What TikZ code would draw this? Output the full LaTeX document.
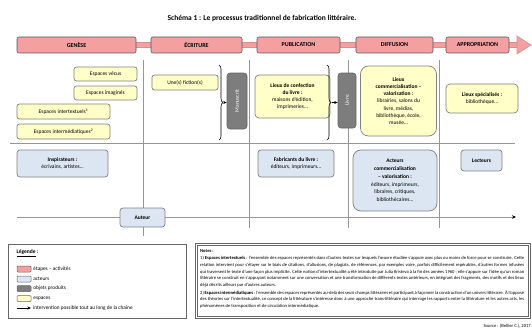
\documentclass[tikz,border=0pt]{standalone}
\usepackage{fontspec}
\setmainfont{Carlito}
\usetikzlibrary{arrows.meta,decorations.pathreplacing,positioning}

\definecolor{etape}{RGB}{244,160,160}
\definecolor{etapeline}{RGB}{200,95,95}
\definecolor{espace}{RGB}{255,255,200}
\definecolor{acteur}{RGB}{220,230,242}
\definecolor{objet}{RGB}{125,125,125}
\definecolor{trait}{RGB}{150,150,150}

\newcommand{\taille}[2]{\fontsize{#1}{#2}\selectfont}

\begin{document}
\begin{tikzpicture}[x=1pt, y=-1pt,
  etapebox/.style={draw=black!65, fill=etape, rounded corners=2pt, line width=0.6pt, inner sep=0pt, font=\taille{6}{7}\bfseries},
  espacebox/.style={draw=black!50, fill=espace, rounded corners=2.5pt, line width=0.7pt, inner sep=1pt, align=center, font=\taille{5.5}{7.3}},
  acteurbox/.style={draw=black!50, fill=acteur, rounded corners=3pt, line width=0.7pt, inner sep=1pt, align=center, font=\taille{5.5}{7.8}},
  objetbox/.style={draw=black!60, fill=objet, rounded corners=3pt, line width=0.6pt, inner sep=0pt, text=white, font=\taille{5.5}{7}},
  ligne/.style={draw=trait, line width=1pt},
  fleche/.style={-{Stealth[length=3.5pt,width=3pt]}, line width=0.6pt},
  cadre/.style={draw=black!60, line width=0.7pt}]

\path[use as bounding box, fill=white] (0,0) rectangle (532,329);

\node[font=\taille{7.5}{9}\bfseries] (titre) at (262,18) {Schéma 1 : Le processus traditionnel de fabrication littéraire.};

% frise des etapes
\coordinate (debut) at (17,45);
\coordinate (pointe) at (518,45);
\draw[line width=5.5pt, etapeline!70] (debut) -- (pointe);
\draw[line width=3.8pt, etape] (debut) -- (pointe);
\filldraw[fill=etape, draw=etapeline!70, line width=0.6pt] (517,36) -- (531,45) -- (517,54) -- cycle;

\node[etapebox, minimum width=119pt, minimum height=16pt] (genese) at (76.5,45) {GENÈSE};
\node[etapebox, minimum width=91pt, minimum height=16pt] (ecriture) at (196.5,45) {ÉCRITURE};
\node[etapebox, minimum width=83pt, minimum height=16pt] (publication) at (298.5,45) {PUBLICATION};
\node[etapebox, minimum width=77pt, minimum height=16pt] (diffusion) at (394.5,45) {DIFFUSION};
\node[etapebox, minimum width=63pt, minimum height=16pt] (appropriation) at (477.5,45) {APPROPRIATION};

% quadrillage
\foreach \x/\bas in {143/236, 249/228, 348/228, 439/228}
  \draw[ligne] (\x,60) -- (\x,\bas);
\coordinate (g1) at (10,143);
\coordinate (d1) at (515,143);
\draw[ligne] (g1) -- (d1);
\coordinate (g2) at (17,217);
\coordinate (d2) at (516,217);
\draw[ligne, -{Stealth[length=4pt,width=3.5pt,black]}] (g2) -- (d2);

% espaces
\node[espacebox, minimum width=63pt, minimum height=14pt] (vecus) at (105.5,74) {Espaces vécus};
\node[espacebox, minimum width=63pt, minimum height=14pt] (imagines) at (105.5,93) {Espaces imaginés};
\node[espacebox, minimum width=93pt, minimum height=15pt] (intertextuels) at (63.5,111.5) {Espaces intertextuels\textsuperscript{1}};
\node[espacebox, minimum width=93pt, minimum height=15pt] (intermediatiques) at (63.5,131.5) {Espaces intermédiatiques\textsuperscript{2}};
\node[espacebox, minimum width=66pt, minimum height=15pt] (fiction) at (185,82.5) {Une(s) fiction(s)};
\node[espacebox, minimum width=75pt, minimum height=43pt, rounded corners=4pt] (confection) at (292.5,96.5) {\textbf{Lieux de confection}\\\textbf{du livre :}\\maisons d'édition,\\imprimeries…};
\node[espacebox, minimum width=76pt, minimum height=70pt, rounded corners=8pt] (lieuxcomm) at (398.5,101) {\textbf{Lieux}\\\textbf{commercialisation –}\\\textbf{valorisation :}\\librairies, salons du\\livre, médias,\\bibliothèque, école,\\musée…};
\node[espacebox, minimum width=72pt, minimum height=29pt, rounded corners=4pt] (specialises) at (482,98.5) {\textbf{Lieux spécialisés :}\\bibliothèque…};

% objets
\node[objetbox, minimum width=20pt, minimum height=56pt] (manuscrit) at (237,101) {\rotatebox{90}{Manuscrit}};
\node[objetbox, minimum width=18pt, minimum height=55pt] (livre) at (347,100.5) {\rotatebox{90}{Livre}};

\draw[decorate, decoration={brace, amplitude=4pt}, line width=0.6pt] (219,65) -- (219,140);
\coordinate (accolade1) at (223.5,102.5);
\draw[fleche] (accolade1) -- (manuscrit.west |- accolade1);
\draw[decorate, decoration={brace, amplitude=4pt}, line width=0.6pt] (327,65) -- (327,140);
\coordinate (accolade2) at (331.5,102.5);
\draw[fleche] (accolade2) -- (livre.west |- accolade2);

% acteurs
\node[acteurbox, minimum width=91pt, minimum height=27pt] (inspirateurs) at (62.5,163.5) {\textbf{Inspirateurs :}\\écrivains, artistes…};
\node[acteurbox, minimum width=76pt, minimum height=27pt] (fabricants) at (296,163.5) {\textbf{Fabricants du livre :}\\éditeurs, imprimeurs…};
\node[acteurbox, minimum width=84pt, minimum height=61pt, rounded corners=8pt] (acteurscomm) at (395,180.5) {\textbf{Acteurs}\\\textbf{commercialisation}\\\textbf{– valorisation :}\\éditeurs, imprimeurs,\\libraires, critiques,\\bibliothécaires…};
\node[acteurbox, minimum width=41pt, minimum height=21pt] (lecteurs) at (481.5,160.5) {\textbf{Lecteurs}};
\node[acteurbox, minimum width=45pt, minimum height=19pt] (auteur) at (142.5,217.5) {\textbf{Auteur}};

% legende
\draw[cadre, line width=1pt] (8,244) rectangle (186,318);
\node[anchor=west, font=\taille{5.5}{7}\bfseries] (titrelegende) at (13,253) {\underline{Légende} :};
\foreach \nom/\couleur/\y/\texte in {rouge/etape/269/étapes – activités, bleu/acteur/279/acteurs, gris/objet/288.5/objets produits, jaune/espace/298.5/espaces}
{
  \node[draw=black!60, fill=\couleur, rounded corners=1pt, minimum width=14pt, minimum height=6pt, inner sep=0pt, line width=0.5pt] (\nom) at (24,\y) {};
  \node[right=2pt of \nom, inner sep=0pt, font=\taille{5.3}{6}] {\texte};
}
\coordinate (flechedebut) at (17,308);
\coordinate (flechefin) at (31,308);
\draw[fleche, line width=0.8pt] (flechedebut) -- (flechefin);
\node[right=2pt of flechefin, inner sep=0pt, font=\taille{5.3}{6}] (intervention) {intervention possible tout au long de la chaîne};

% notes
\draw[cadre] (195,243) rectangle (530,318);
\draw[cadre] (197,245) rectangle (528,316);
\node[anchor=north west, text width=324pt, align=justify, inner sep=0pt, font=\taille{4.6}{6.8}] (notes) at (200,249) {\textbf{Notes :}\\[0.6pt]
1) \textbf{Espaces intertextuels} : l'ensemble des espaces représentés dans d'autres textes sur lesquels l'œuvre étudiée s'appuie avec plus ou moins de force pour se construire. Cette relation intervient pour s'étayer sur le biais de citations, d'allusions, de plagiats, de références, par exemples voire, parfois difficilement repérables, d'autres formes infusées qui traversent le texte d'une façon plus implicite. Cette notion d'intertextualité a été introduite par Julia Kristeva à la fin des années 1960 ; elle s'appuie sur l'idée qu'un roman littéraire se construit en s'appuyant notamment sur une conversation et une transformation de différents textes antérieurs, en intégrant des fragments, des motifs et des lieux déjà décrits ailleurs par d'autres auteurs.\\[0.6pt]
2) \textbf{Espaces intermédiatiques} : l'ensemble des espaces représentés au-delà des seuls champs littéraires et participant à façonner la construction d'un univers littéraire. À l'opposé des théories sur l'intertextualité, ce concept de la littérature s'intéresse donc à une approche trans-littéraire qui interroge les rapports entre la littérature et les autres arts, les phénomènes de transposition et de circulation intermédiatique.};

\node[anchor=east, inner sep=0pt, font=\taille{4.6}{6}] (source) at (531,326) {Source : (Bellier C.), 2017};

\end{tikzpicture}
\end{document}
